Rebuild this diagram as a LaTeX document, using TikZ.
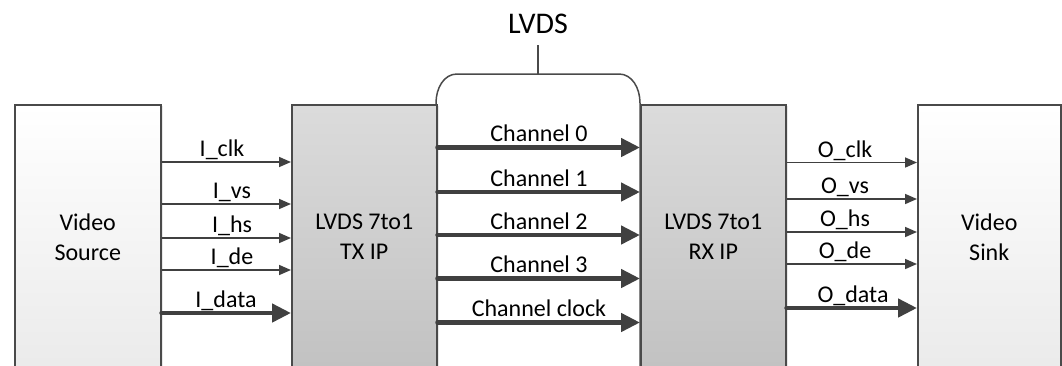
\documentclass[tikz,border=0pt]{standalone}
\usepackage{fontspec}
\setmainfont{Carlito}
\usetikzlibrary{arrows.meta,shadows}
\definecolor{edge}{HTML}{4A4A4A}
\definecolor{arr}{HTML}{404040}
\begin{document}
\begin{tikzpicture}[x=1pt,y=-1pt,
  box/.style={draw=edge, line width=1.5pt, anchor=north west, align=center,
    font=\fontsize{24}{30}\selectfont, inner sep=0pt,
    drop shadow={shadow xshift=2.5pt,shadow yshift=-1.5pt,opacity=0.18}},
  plainbox/.style={box, top color=white, bottom color=black!8},
  ipbox/.style={box, top color=black!14, bottom color=black!24},
  sig/.style={draw=arr, line width=1.6pt, -{Triangle[length=12pt,width=10pt]}},
  bus/.style={draw=arr, line width=4.5pt, line cap=round, -{Triangle[length=19pt,width=18pt]}},
  lab/.style={anchor=base, font=\fontsize{24}{28}\selectfont, inner sep=0pt},
  edgeline/.style={draw=edge, line width=1.5pt},
]
\useasboundingbox (0,0) rectangle (1062,365);
\clip (0,0) rectangle (1062,365);

% LVDS link shape
\draw[edgeline, fill=white] (436,370) -- (436,103)
  .. controls (436,88) and (444,74) .. (457,74) -- (619,74)
  .. controls (632,74) and (640,88) .. (640,103) -- (640,370);
\node[anchor=base, font=\fontsize{30}{36}\selectfont, inner sep=0pt] (lvds) at (538,33) {LVDS};
\coordinate (stemtop) at (538,45);
\coordinate (lvdstop) at (538,74);
\draw[edgeline] (stemtop) -- (lvdstop);

% boxes
\node[plainbox, minimum width=146pt, minimum height=264pt] (src) at (14,104) {Video\\Source};
\node[ipbox, minimum width=145pt, minimum height=264pt] (tx) at (291,104) {LVDS 7to1\\TX IP};
\node[ipbox, minimum width=145pt, minimum height=264pt] (rx) at (640,104) {LVDS 7to1\\RX IP};
\node[plainbox, minimum width=143pt, minimum height=264pt] (sink) at (917,104) {Video\\Sink};

% source -> TX
\draw[sig] (src.east |- 0,162) -- (tx.west |- 0,162);
\draw[sig] (src.east |- 0,204) -- (tx.west |- 0,204);
\draw[sig] (src.east |- 0,238) -- (tx.west |- 0,238);
\draw[sig] (src.east |- 0,270) -- (tx.west |- 0,270);
\draw[bus] (src.east |- 0,313) -- (tx.west |- 0,313);
\node[lab] (lclk) at (222,156.5) {I\_clk};
\node[lab] (lvs) at (232,198.5) {I\_vs};
\node[lab] (lhs) at (232,232.5) {I\_hs};
\node[lab] (lde) at (232,264.5) {I\_de};
\node[lab] (ldata) at (226,307) {I\_data};

% TX -> RX channels
\draw[bus] (tx.east |- 0,147.5) -- (rx.west |- 0,147.5);
\draw[bus] (tx.east |- 0,192) -- (rx.west |- 0,192);
\draw[bus] (tx.east |- 0,235) -- (rx.west |- 0,235);
\draw[bus] (tx.east |- 0,278.5) -- (rx.west |- 0,278.5);
\draw[bus] (tx.east |- 0,322.5) -- (rx.west |- 0,322.5);
\node[lab] (lch0) at (539,141.5) {Channel 0};
\node[lab] (lch1) at (539,186) {Channel 1};
\node[lab] (lch2) at (539,229) {Channel 2};
\node[lab] (lch3) at (539,272.5) {Channel 3};
\node[lab] (lchc) at (539,316.5) {Channel clock};

% RX -> sink
\draw[sig] (rx.east |- 0,162.5) -- (sink.west |- 0,162.5);
\draw[sig] (rx.east |- 0,199) -- (sink.west |- 0,199);
\draw[sig] (rx.east |- 0,232) -- (sink.west |- 0,232);
\draw[sig] (rx.east |- 0,264) -- (sink.west |- 0,264);
\draw[bus] (rx.east |- 0,308) -- (sink.west |- 0,308);
\node[lab] (loclk) at (845,157) {O\_clk};
\node[lab] (lovs) at (845,193.5) {O\_vs};
\node[lab] (lohs) at (845,226.5) {O\_hs};
\node[lab] (lode) at (845,258.5) {O\_de};
\node[lab] (lodata) at (853,302) {O\_data};
\end{tikzpicture}
\end{document}
